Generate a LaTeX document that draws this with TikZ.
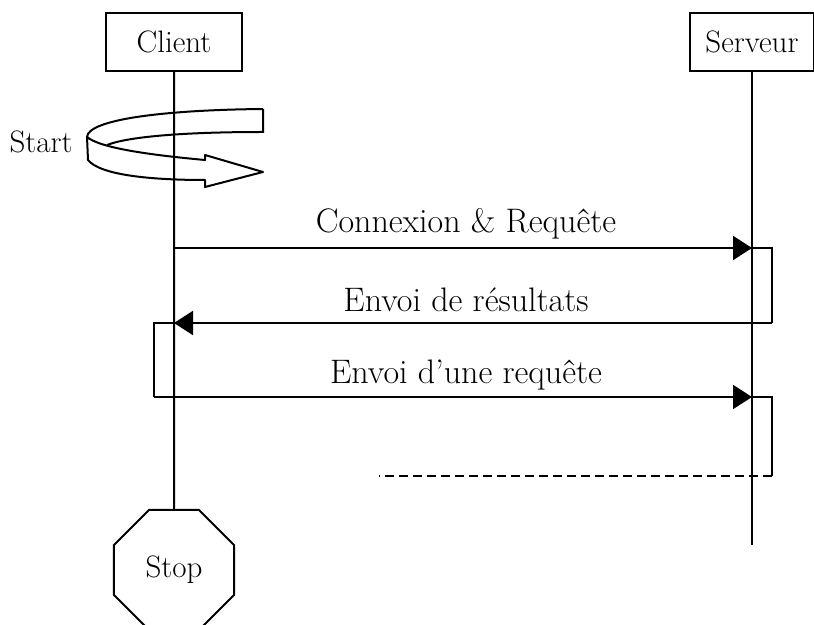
\documentclass[tikz,border=0pt]{standalone}
\usepackage{tikz}
\usetikzlibrary{arrows.meta,shapes.geometric}

\tikzset{
    actor/.style={draw, line width=1pt, minimum width=68pt, minimum height=29pt, inner sep=0pt, font=\fontsize{15.5}{18}\selectfont},
    stopsign/.style={draw, regular polygon, regular polygon sides=8, minimum size=65pt, inner sep=0pt, line width=1pt, font=\fontsize{15.5}{18}\selectfont},
    lifeline/.style={line width=1pt},
    msg/.style={line width=1pt, -{Triangle[length=9.5pt,width=12pt]}},
    lbl/.style={anchor=base, font=\fontsize{15.5}{18}\selectfont},
    msglbl/.style={anchor=base, font=\fontsize{17}{20}\selectfont},
}

\begin{document}
\begin{tikzpicture}[x=0.5pt,y=-0.5pt]
            \useasboundingbox (0,0) rectangle (814,625);

            % Actors
            \node[actor] (client) at (174,42) {Client};
            \node[actor, minimum width=62pt] (serveur) at (752,42) {Serveur};
            \node[stopsign] (stop) at (174,570) {Stop};
            \coordinate (srvend) at (752,545);

            % Start ribbon arrow
            \node[lbl] (start) at (41,153) {Start};
            \draw[line width=1pt, line join=round]
                (263,109) .. controls (160,110) and (88,120) .. (87,137)
                -- (88,160) .. controls (100,175) and (150,180) .. (205,180)
                -- (205,187) -- (263,172) -- (205,155) -- (205,160)
                .. controls (150,155) and (100,148) .. (87,137);
            \draw[line width=1pt] (263,109) -- (263,132)
                .. controls (190,132) and (130,136) .. (107,145);

            % Lifelines
            \draw[lifeline] (client.south) -- (stop.north);
            \draw[lifeline] (serveur.south) -- (srvend);

            % Message points
            \coordinate (c1) at (174,248);
            \coordinate (s1) at (752,248);
            \coordinate (r1) at (772,323);
            \coordinate (c2) at (174,323);
            \coordinate (q1) at (154,397);
            \coordinate (s3) at (752,397);
            \coordinate (r3) at (772,476);
            \coordinate (dend) at (379,476);

            % Connexion & Requete
            \draw[msg] (c1) -- (s1);
            \node[msglbl] (connexion) at (466,233) {Connexion \& Requête};
            \draw[lifeline] (s1) -| (r1);

            % Envoi de resultats
            \draw[msg] (r1) -- (c2);
            \node[msglbl] (resultats) at (466,312) {Envoi de résultats};
            \draw[lifeline] (c2) -| (q1);

            % Envoi d'une requete
            \draw[msg] (q1) -- (s3);
            \node[msglbl] (requete) at (466,384) {Envoi d’une requête};
            \draw[lifeline] (s3) -| (r3);
            \draw[lifeline, dash pattern=on 4.5pt off 2.5pt] (r3) -- (dend);
        \end{tikzpicture}
\end{document}
